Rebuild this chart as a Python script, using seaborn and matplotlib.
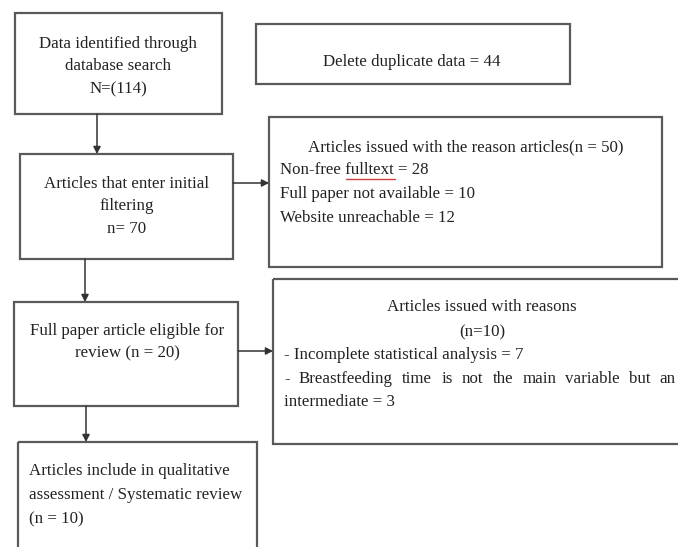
import matplotlib
matplotlib.use("Agg")
import matplotlib.pyplot as plt
import matplotlib.patches as patches
import seaborn as sns

# flow steps (main column) and exclusions (right column)
step_labels = [
    "Data identified through\ndatabase search\nN=(114)",
    "Articles that enter initial\nfiltering\nn= 70",
    "Full paper article eligible for\nreview (n = 20)",
]
final_lines = ["Articles include in qualitative",
               "assessment / Systematic review",
               "(n = 10)"]
duplicate_label = "Delete duplicate data = 44"
excl1_title = "Articles issued with the reason articles(n = 50)"
excl1_lines = ["Non-free fulltext = 28",
               "Full paper not available = 10",
               "Website unreachable = 12"]
excl2_title = ["Articles issued with reasons", "(n=10)"]
excl2_lines = ["- Incomplete statistical analysis = 7"]
excl2_justified = "- Breastfeeding time is not the main variable but an"
excl2_last = "intermediate = 3"

# layout (pixels, y downwards)
step_boxes = [(15, 13, 222, 114), (20, 154, 233, 259), (14, 302, 238, 406)]
step_text_pos = [(118, 48), (127, 188), (127, 335)]   # first baseline
final_box = (18, 442, 257, 570)
dup_box = (256, 24, 570, 84)
excl1_box = (269, 117, 662, 267)
excl2_box = (273, 279, 720, 444)

sns.set_theme(style="white")
plt.rcParams["font.family"] = ["Liberation Serif", "DejaVu Serif"]

fig = plt.figure(figsize=(6.78, 5.47), dpi=100)
ax = fig.add_axes([0, 0, 1, 1])
ax.set_xlim(0, 678)
ax.set_ylim(547, 0)
ax.axis("off")

edge = "#5a5a5a"
fs = 12.2
tc = "#222222"


def box(b):
    x0, y0, x1, y1 = b
    ax.add_patch(patches.Rectangle((x0, y0), x1 - x0, y1 - y0, fill=False,
                                   edgecolor=edge, lw=1.6, clip_on=True))


def arrow(x0, y0, x1, y1):
    ax.annotate("", xy=(x1, y1), xytext=(x0, y0),
                arrowprops=dict(arrowstyle="-|>,head_length=0.35,head_width=0.18",
                                color="#333333", lw=1.1, shrinkA=0, shrinkB=0))


fig.canvas.draw()
renderer = fig.canvas.get_renderer()
inv = ax.transData.inverted()


def width_of(t):
    bb = t.get_window_extent(renderer)
    return inv.transform((bb.x1, bb.y0))[0] - inv.transform((bb.x0, bb.y0))[0]


for b in step_boxes + [final_box, dup_box, excl1_box, excl2_box]:
    box(b)

# main column text, one line at a time
for label, (cx, cy) in zip(step_labels, step_text_pos):
    for j, line in enumerate(label.split("\n")):
        ax.text(cx, cy + j * 22.5, line, ha="center", va="baseline", fontsize=fs, color=tc)
for i, line in enumerate(final_lines):
    ax.text(29, 475 + i * 24, line, ha="left", va="baseline", fontsize=fs, color=tc)

ax.text(412, 62, duplicate_label, ha="center", va="center", fontsize=fs, color=tc)

# first exclusion box
ax.text(466, 147, excl1_title, ha="center", va="center", fontsize=fs, color=tc)
for i, line in enumerate(excl1_lines):
    ax.text(280, 170 + i * 24, line, ha="left", va="center", fontsize=fs, color=tc)
    if i == 0:
        # spell-check underline under "fulltext"
        pre = ax.text(280, 170, "Non-free ", ha="left", va="center", fontsize=fs, alpha=0)
        word = ax.text(280, 170, "fulltext", ha="left", va="center", fontsize=fs, alpha=0)
        x0 = 280 + width_of(pre) + 1
        ax.plot([x0, x0 + width_of(word)], [179, 179], color="#d04040", lw=1.0)

# second exclusion box
ax.text(482, 307, excl2_title[0], ha="center", va="center", fontsize=fs, color=tc)
ax.text(482, 332, excl2_title[1], ha="center", va="center", fontsize=fs, color=tc)
ax.text(284, 355, excl2_lines[0], ha="left", va="center", fontsize=fs, color=tc)

# justified line: spread words between left and right edge
words = excl2_justified.split(" ")
objs = [ax.text(0, 383, w, ha="left", va="baseline", fontsize=fs, color=tc) for w in words]
widths = [width_of(o) for o in objs]
left, right = 284, 676
gap = (right - left - sum(widths)) / (len(words) - 1)
x = left
for o, w in zip(objs, widths):
    o.set_x(x)
    x += w + gap
ax.text(284, 402, excl2_last, ha="left", va="center", fontsize=fs, color=tc)

# arrows
arrow(97, 114, 97, 154)
arrow(233, 183, 269, 183)
arrow(85, 259, 85, 302)
arrow(238, 351, 273, 351)
arrow(86, 406, 86, 442)

fig.savefig("out.png", dpi=100)
